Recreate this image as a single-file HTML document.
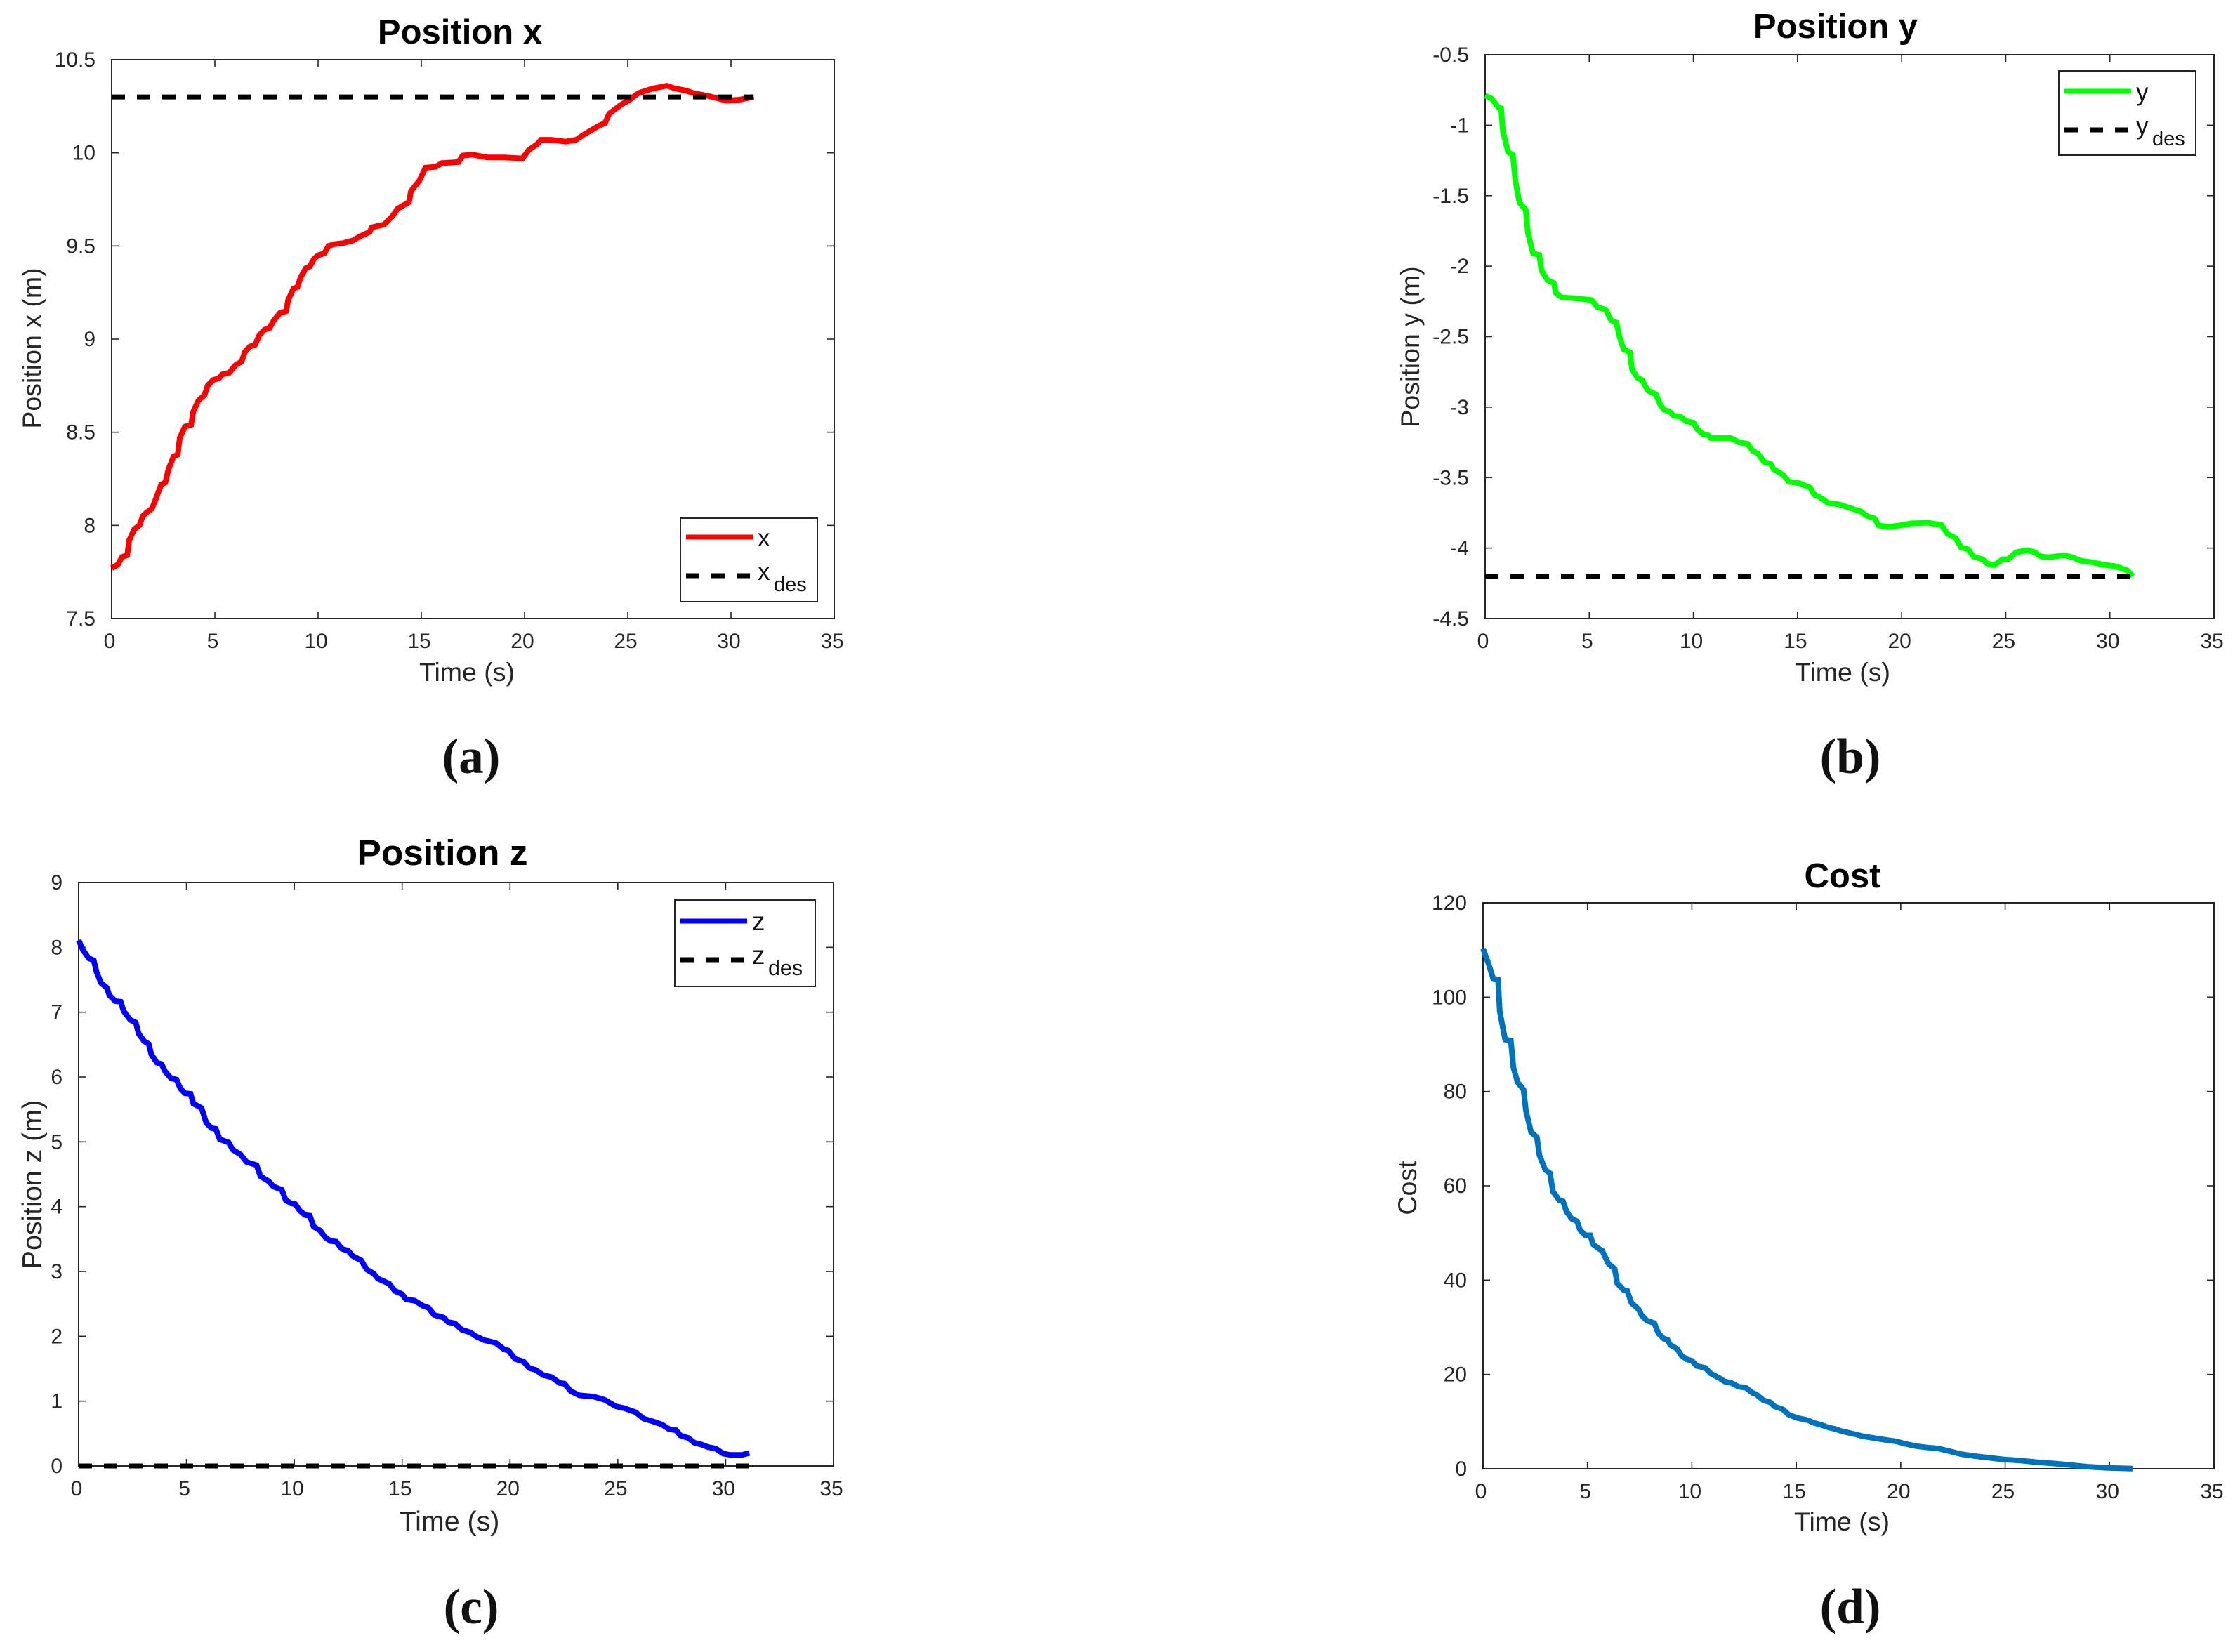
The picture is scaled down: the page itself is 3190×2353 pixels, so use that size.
<!DOCTYPE html>
<html lang="en">
<head>
<meta charset="utf-8">
<title>Position and cost plots</title>
<style>
html,body{margin:0;padding:0;background:#fff;}
svg{display:block;}
text{font-family:"Liberation Sans",Arial,sans-serif;}
.cap{font-family:"Liberation Serif",serif;font-weight:bold;font-size:71px;fill:#111;}
</style>
</head>
<body>
<svg id="figure" xmlns="http://www.w3.org/2000/svg" width="3190" height="2353" viewBox="0 0 3190 2353"></svg>
<script>
const xTickLabels = ['0','5','10','15','20','25','30','35'];
const yTicksA = ['7.5','8','8.5','9','9.5','10','10.5'];
const yTicksB = ['-4.5','-4','-3.5','-3','-2.5','-2','-1.5','-1','-0.5'];
const yTicksC = ['0','1','2','3','4','5','6','7','8','9'];
const yTicksD = ['0','20','40','60','80','100','120'];

const timeX = [0,0.3,0.5,0.75,0.85,1.1,1.35,1.5,1.7,1.95,2.1,2.4,2.6,2.75,3,3.2,3.3,3.55,3.85,3.95,4.2,4.5,4.65,4.9,5.2,5.35,5.7,6,6.3,6.45,6.7,6.95,7.15,7.4,7.65,7.85,8.15,8.45,8.55,8.8,9,9.15,9.4,9.6,9.8,10,10.3,10.5,10.8,11.2,11.7,12,12.5,12.6,13.2,13.6,13.85,14.4,14.5,14.9,15.2,15.7,16,16.8,17,17.5,18.2,19,19.9,20.2,20.6,20.8,21.3,22,22.5,22.9,23.6,23.9,24.1,24.7,25.1,25.5,26.2,26.9,27.3,27.8,28.2,28.9,29.8,30.4,31.1];
const seriesX = [7.77,7.79,7.83,7.84,7.92,7.98,8,8.05,8.07,8.09,8.13,8.22,8.23,8.3,8.37,8.38,8.47,8.53,8.54,8.61,8.67,8.7,8.75,8.78,8.79,8.81,8.82,8.86,8.88,8.93,8.96,8.97,9.02,9.05,9.06,9.1,9.14,9.15,9.21,9.27,9.28,9.33,9.38,9.39,9.43,9.45,9.46,9.5,9.51,9.515,9.53,9.55,9.575,9.6,9.615,9.66,9.7,9.735,9.795,9.85,9.92,9.925,9.945,9.95,9.985,9.99,9.975,9.975,9.97,10.015,10.045,10.07,10.07,10.06,10.07,10.1,10.145,10.16,10.21,10.26,10.285,10.32,10.345,10.36,10.345,10.335,10.32,10.305,10.28,10.285,10.3];
const desiredX = [10.3,10.3];

const timeY = [0,0.3,0.65,0.77,0.85,1.1,1.33,1.45,1.65,1.95,2.05,2.3,2.6,2.7,3,3.3,3.4,3.65,4.45,5.1,5.4,5.8,6.05,6.3,6.45,6.65,6.95,7.05,7.3,7.55,7.8,8.2,8.4,8.6,8.85,9.05,9.4,9.65,10,10.2,10.45,10.7,10.85,11.8,12.2,12.6,12.85,13.1,13.4,13.7,13.85,14.3,14.6,15.1,15.6,15.8,16.2,16.45,17,17.4,18.05,18.3,18.7,18.9,19.4,19.9,20.45,21.25,21.9,22.2,22.6,22.85,23.2,23.45,23.9,24.1,24.45,24.85,25.1,25.5,26.05,26.4,26.7,27.1,27.8,28.2,28.6,29.1,29.8,30.3,30.85,31.1];
const seriesY = [-0.79,-0.81,-0.875,-0.88,-1.04,-1.19,-1.21,-1.39,-1.55,-1.6,-1.76,-1.91,-1.92,-2.03,-2.1,-2.12,-2.19,-2.22,-2.23,-2.24,-2.29,-2.31,-2.385,-2.4,-2.5,-2.59,-2.61,-2.73,-2.79,-2.81,-2.88,-2.91,-2.98,-3.02,-3.03,-3.06,-3.07,-3.1,-3.11,-3.16,-3.19,-3.2,-3.22,-3.22,-3.25,-3.26,-3.31,-3.33,-3.39,-3.4,-3.44,-3.48,-3.53,-3.54,-3.57,-3.62,-3.65,-3.68,-3.69,-3.71,-3.74,-3.77,-3.79,-3.84,-3.85,-3.84,-3.825,-3.82,-3.835,-3.9,-3.93,-3.995,-4.01,-4.06,-4.08,-4.11,-4.12,-4.08,-4.08,-4.03,-4.015,-4.03,-4.06,-4.065,-4.05,-4.065,-4.09,-4.1,-4.12,-4.13,-4.16,-4.2];
const desiredY = [-4.2,-4.2];

const timeZ = [0,0.2,0.47,0.7,0.83,1.04,1.3,1.43,1.7,1.95,2.08,2.4,2.65,2.78,3.04,3.25,3.37,3.63,3.84,4.02,4.28,4.54,4.72,4.93,5.19,5.32,5.7,5.92,6.17,6.36,6.54,6.95,7.14,7.52,7.78,8.25,8.43,8.82,9.03,9.42,9.6,9.86,10.04,10.25,10.5,10.72,10.9,11.2,11.42,11.68,11.94,12.2,12.5,12.7,13.1,13.36,13.67,13.88,14.4,14.66,15,15.18,15.57,15.96,16.22,16.48,16.92,17.13,17.44,17.77,18.16,18.42,18.81,19.33,19.72,19.93,20.24,20.63,20.89,21.2,21.54,21.93,22.3,22.52,22.83,23.22,23.87,24.39,24.91,25.3,25.82,26.2,26.6,27.04,27.37,27.7,27.9,28.28,28.54,28.88,29.19,29.53,29.89,30.23,30.75,31.1];
const seriesZ = [8.11,7.96,7.83,7.8,7.62,7.45,7.38,7.26,7.17,7.16,7.02,6.88,6.84,6.67,6.55,6.51,6.35,6.22,6.2,6.08,5.98,5.96,5.82,5.75,5.74,5.59,5.52,5.29,5.21,5.2,5.04,4.99,4.88,4.8,4.69,4.64,4.47,4.39,4.31,4.26,4.1,4.05,4.04,3.94,3.87,3.86,3.69,3.63,3.53,3.47,3.46,3.35,3.32,3.24,3.17,3.03,2.97,2.89,2.81,2.7,2.65,2.57,2.55,2.47,2.44,2.33,2.29,2.22,2.2,2.1,2.06,2,1.94,1.9,1.8,1.78,1.65,1.61,1.51,1.48,1.4,1.37,1.28,1.27,1.15,1.09,1.07,1.02,0.92,0.89,0.83,0.73,0.69,0.64,0.57,0.55,0.47,0.43,0.36,0.33,0.29,0.27,0.19,0.17,0.17,0.2];
const desiredZ = [0,0];

const timeCost = [0,0.27,0.48,0.72,0.8,1.06,1.33,1.46,1.65,1.94,2.05,2.3,2.58,2.7,2.98,3.2,3.35,3.64,3.83,4,4.25,4.5,4.65,4.9,5.13,5.27,5.6,5.7,6,6.3,6.43,6.73,6.9,7.1,7.45,7.6,7.85,8.2,8.4,8.65,8.83,8.96,9.3,9.5,9.76,10,10.24,10.64,10.9,11.3,11.57,11.9,12.23,12.58,12.9,13.08,13.43,13.75,13.96,14.36,14.63,15.03,15.56,15.82,16.2,16.5,16.9,17.15,17.7,18.2,18.6,19.3,19.8,20.2,20.75,21.3,21.8,22.35,22.9,23.55,24.1,24.9,25.7,26.5,27.4,28.1,28.9,29.9,31.1];
const seriesCost = [110.3,107,104,103.7,97,91,90.8,85,82,80.4,76,71.4,70.3,66.5,63.4,62.7,58.8,57,56.7,54.5,53,52.5,50.6,49.5,49.5,47.6,46.5,46.3,43.5,42.4,39.3,37.9,37.8,35.2,33.8,32.5,31.4,30.9,28.7,27.6,27.4,26.3,25.4,24,23.2,22.9,21.8,21.4,20.2,19.3,18.5,18.2,17.4,17.2,16.1,15.8,14.5,14.1,13.2,12.6,11.5,10.8,10.3,9.75,9.3,8.8,8.4,8,7.45,6.9,6.6,6.1,5.8,5.3,4.8,4.5,4.3,3.7,3.1,2.7,2.4,2,1.75,1.4,1.1,0.8,0.45,0.2,0.05];

const desiredTime = [0,31.1];
const xRange = [0,35];

const svg = document.getElementById('figure');
const NS = 'http://www.w3.org/2000/svg';
const INK = '#262626';

function mk(tag, attrs, parent) {
  const el = document.createElementNS(NS, tag);
  for (const k in attrs) el.setAttribute(k, attrs[k]);
  (parent || svg).appendChild(el);
  return el;
}
function label(parent, name, str, x, y, size, anchor, weight, fill, rot) {
  const attrs = {x:x, y:y, 'font-size':size, 'text-anchor':anchor||'start', fill:fill||INK};
  if (weight) attrs['font-weight'] = weight;
  if (rot) attrs.transform = 'rotate(-90 ' + x + ' ' + y + ')';
  const t = mk('text', attrs, parent);
  t.textContent = str;
  
  
  return t;
}
function pathFor(ts, vs, sx, sy) {
  const n = Math.min(ts.length, vs.length);
  const pts = [];
  for (let i = 0; i < n; i++) pts.push(sx(ts[i]).toFixed(1) + ',' + sy(vs[i]).toFixed(1));
  return pts.join(' ');
}

function drawPanel(p) {
  const g = mk('g', {});
  
  
  const L = p.box[0], T = p.box[1], R = p.box[2], B = p.box[3];
  const yVals = p.yLabels.map(Number);
  const yMin = yVals[0], yMax = yVals[yVals.length - 1];
  const sx = v => L + (v - xRange[0]) / (xRange[1] - xRange[0]) * (R - L);
  const sy = v => B - (v - yMin) / (yMax - yMin) * (B - T);
  const k = p.fontScale || 1;

  const frame = mk('rect', {x:L, y:T, width:R-L, height:B-T, fill:'#fff', stroke:INK, 'stroke-width':2}, g);
  
  

  const tickLen = 10;
  xTickLabels.forEach(s => {
    const x = sx(Number(s));
    const t1 = mk('line', {x1:x, x2:x, y1:B, y2:B-tickLen, stroke:INK, 'stroke-width':1.6}, g);
    
    
    const t2 = mk('line', {x1:x, x2:x, y1:T, y2:T+tickLen, stroke:INK, 'stroke-width':1.6}, g);
    
    
    label(g, p.id + '-x-tick-label', s, x - 3, B + 42, 30, 'middle');
  });
  p.yLabels.forEach(s => {
    const y = sy(Number(s));
    const t1 = mk('line', {x1:L, x2:L+tickLen, y1:y, y2:y, stroke:INK, 'stroke-width':1.6}, g);
    
    
    const t2 = mk('line', {x1:R, x2:R-tickLen, y1:y, y2:y, stroke:INK, 'stroke-width':1.6}, g);
    
    
    label(g, p.id + '-y-tick-label', s, L - 23, y + 10, 30, 'end');
  });

  const line = mk('polyline', {points:pathFor(p.t, p.v, sx, sy), fill:'none', stroke:p.color, 'stroke-width':8, 'stroke-linejoin':'miter'}, g);
  
  

  if (p.des) {
    const d = mk('polyline', {points:pathFor(desiredTime, p.des, sx, sy), fill:'none', stroke:'#000', 'stroke-width':7, 'stroke-dasharray':'19 17'}, g);
    
    
  }

  label(g, p.id + '-title', p.title, p.titlePos[0], p.titlePos[1], 49 * k, 'middle', 'bold', '#000');
  label(g, p.id + '-x-axis-title', 'Time (s)', p.xlabPos[0], p.xlabPos[1], 37.5 * k, 'middle');
  label(g, p.id + '-y-axis-title', p.ylabel, p.ylabPos[0], p.ylabPos[1], 37.5 * k, 'middle', null, null, true);

  if (p.legend) {
    const a = p.legend[0], b = p.legend[1], w = p.legend[2], h = p.legend[3], dy = p.legend[4];
    const lg = mk('g', {}, g);
    
    
    const box = mk('rect', {x:a, y:b, width:w, height:h, fill:'#fff', stroke:INK, 'stroke-width':2}, lg);
    
    
    const k1 = mk('line', {x1:a+8, x2:a+103, y1:b+27+dy, y2:b+27+dy, stroke:p.color, 'stroke-width':7}, lg);
    
    
    const k2 = mk('line', {x1:a+8, x2:a+103, y1:b+82+dy, y2:b+82+dy, stroke:'#000', 'stroke-width':7, 'stroke-dasharray':'19 17'}, lg);
    
    
    label(lg, p.id + '-legend-series-label', p.sym, a + 110, b + 40 + dy, 35 * k, 'start', null, '#111');
    label(lg, p.id + '-legend-desired-label', p.sym, a + 110, b + 88 + dy, 35 * k, 'start', null, '#111');
    label(lg, p.id + '-legend-desired-subscript', 'des', a + 133, b + 104 + dy, 29 * k, 'start', null, '#111');
  }

  const cap = mk('text', {x:p.capPos[0], y:p.capPos[1], 'text-anchor':'middle', 'class':'cap'}, g);
  cap.textContent = p.cap;
  
  
}

drawPanel({id:'position-x', box:[159,85,1188,881], yLabels:yTicksA, t:timeX, v:seriesX, des:desiredX, color:'#ff0000',
  title:'Position x', titlePos:[655,62], xlabPos:[665,970], ylabel:'Position x (m)', ylabPos:[58,496],
  legend:[969,738,195,119,0], sym:'x', cap:'(a)', capPos:[671,1101]});
drawPanel({id:'position-y', box:[2115,78,3153,881], yLabels:yTicksB, t:timeY, v:seriesY, des:desiredY, color:'#00ff00',
  title:'Position y', titlePos:[2614,54], xlabPos:[2624,970], ylabel:'Position y (m)', ylabPos:[2021,494],
  legend:[2932,101,195,120,2], sym:'y', cap:'(b)', capPos:[2635,1101]});
drawPanel({id:'position-z', box:[112,1257,1187,2088], yLabels:yTicksC, t:timeZ, v:seriesZ, des:desiredZ, color:'#0000ff',
  title:'Position z', titlePos:[630,1232], xlabPos:[640,2180], fontScale:1.05, ylabel:'Position z (m)', ylabPos:[59,1687],
  legend:[961,1282,200,123,3], sym:'z', cap:'(c)', capPos:[671,2312]});
drawPanel({id:'cost', box:[2112,1286,3153,2092], yLabels:yTicksD, t:timeCost, v:seriesCost, des:null, color:'#0072bd',
  title:'Cost', titlePos:[2624,1264], xlabPos:[2623,2180], ylabel:'Cost', ylabPos:[2017,1692],
  legend:null, sym:'', cap:'(d)', capPos:[2635,2312]});
</script>
</body>
</html>
